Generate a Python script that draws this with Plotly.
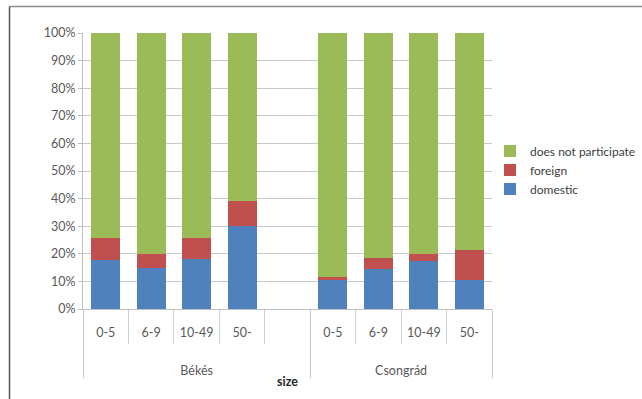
import plotly.graph_objects as go

regions = ["Békés"] * 5 + ["Csongrád"] * 4
sizes = ["0-5", "6-9", "10-49", "50-", " ", "0-5", "6-9", "10-49", "50-"]
domestic = [17.8, 14.9, 18.0, 30.2, None, 10.5, 14.4, 17.4, 10.5]
foreign = [8.0, 4.9, 7.6, 8.8, None, 1.0, 4.0, 2.4, 10.8]
not_participate = [74.2, 80.2, 74.4, 61.0, None, 88.5, 81.6, 80.2, 78.7]

colors = {"domestic": "#4F81BD", "foreign": "#C0504D", "does not participate": "#9BBB59"}
FONT = "Lato, 'Open Sans', sans-serif"

group_labels = ["<br><br>" + r for r in regions]
x = [group_labels, sizes]
fig = go.Figure()
for name, vals in [("domestic", domestic), ("foreign", foreign), ("does not participate", not_participate)]:
    fig.add_trace(go.Bar(x=x, y=vals, name=name, legendgroup=name,
                         marker=dict(color=colors[name], line=dict(width=0))))

W, H = 642, 399
L, R, T, B = 83, 150, 33, 90
pw, ph = W - L - R, H - T - B

def px(v):
    return (v - L) / pw

def py(v):
    return (H - B - v) / ph

fig.update_layout(
    width=W, height=H,
    margin=dict(l=L, r=R, t=T, b=B, pad=0, autoexpand=False),
    barmode="stack",
    bargap=0.36,
    paper_bgcolor="white",
    plot_bgcolor="white",
    font=dict(family=FONT, size=12.5, color="#595959"),
    legend=dict(
        traceorder="reversed",
        tracegroupgap=3,
        x=px(490), y=py(170), xanchor="left", yanchor="middle",
        font=dict(size=12, color="#404040"),
        itemwidth=30,
        bgcolor="rgba(0,0,0,0)",
    ),
    xaxis=dict(
        type="multicategory",
        tickson="boundaries",
        ticks="outside",
        ticklen=34,
        tickcolor="#d0d0d0",
        ticklabelstandoff=12,
        showdividers=True,
        dividercolor="#c8c8c8",
        dividerwidth=1,
        showline=True,
        linecolor="#bfbfbf",
        showgrid=False,
        tickfont=dict(size=12.5, color="#595959"),
        title=dict(text="<b>size</b>", font=dict(size=12.5, color="#262626"), standoff=0),
    ),
    yaxis=dict(
        range=[0, 100],
        dtick=10,
        ticksuffix="%",
        showgrid=True,
        gridcolor="#c8c8c8",
        gridwidth=1,
        showline=True,
        linecolor="#bfbfbf",
        ticks="outside",
        ticklen=4,
        tickcolor="#bfbfbf",
        zeroline=False,
        tickfont=dict(size=12.5, color="#595959"),
    ),
    shapes=[
        dict(type="line", xref="paper", yref="paper", x0=px(9.5), x1=px(642), y0=py(6.5), y1=py(6.5),
             line=dict(color="#8c8c8c", width=1.5)),
        dict(type="line", xref="paper", yref="paper", x0=px(9.5), x1=px(9.5), y0=py(6.5), y1=py(399),
             line=dict(color="#595959", width=1.5)),
    ],
)

fig.write_html("out.html")
